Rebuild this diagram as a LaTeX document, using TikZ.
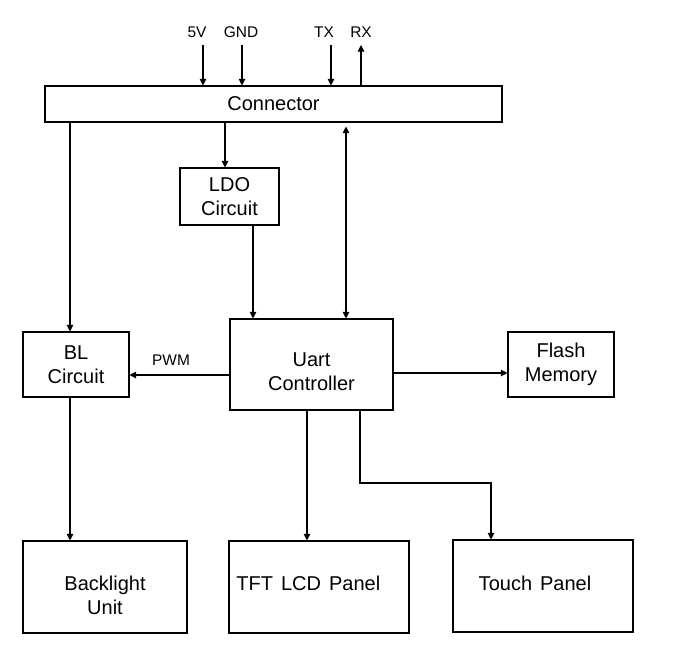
\documentclass[tikz,border=0pt]{standalone}
\usepackage{fontspec}
\setmainfont{Liberation Sans}
\usetikzlibrary{arrows.meta}

\begin{document}
\begin{tikzpicture}[x=0.75pt,y=-0.75pt,
  box/.style={draw,line width=0.8pt,align=center,inner sep=0pt,
    font=\fontsize{15}{18}\selectfont},
  txt/.style={align=center,inner sep=0pt,font=\fontsize{15}{18}\selectfont},
  sig/.style={inner sep=0pt,font=\fontsize{11.6}{14}\selectfont},
  arr/.style={-{Triangle[length=5pt,width=5pt]},line width=0.8pt},
  darr/.style={{Triangle[length=5pt,width=5pt]}-{Triangle[length=5pt,width=5pt]},line width=0.8pt}]
\useasboundingbox (0,0) rectangle (688,653);

% blocks
\node[box,minimum width=342.75pt,minimum height=27pt] (conn) at (273.5,104) {Connector};
\node[box,minimum width=74.25pt,minimum height=42.75pt] (ldo) at (229.5,196.5) {LDO\\Circuit};
\node[box,minimum width=79.5pt,minimum height=48.75pt] (bl) at (76,364.5) {BL\\Circuit};
\node[box,minimum width=122.25pt,minimum height=68.25pt,
  label={[txt,yshift=-5.6pt]center:Uart\\Controller}] (uart) at (311.5,364.5) {};
\node[box,minimum width=79.5pt,minimum height=48.75pt] (flash) at (561,364.5) {Flash\\Memory};
\node[box,minimum width=123pt,minimum height=69pt,
  label={[txt,yshift=-6pt]center:Backlight\\Unit}] (back) at (105,587) {};
\node[box,minimum width=135pt,minimum height=69pt,
  label={[txt,xshift=-8pt,yshift=3pt]center:TFT\hspace{0.4em}LCD\hspace{0.4em}Panel}] (tft) at (319,587) {};
\node[box,minimum width=135pt,minimum height=69pt,
  label={[txt,xshift=-6pt,yshift=2pt]center:Touch\hspace{0.4em}Panel}] (touch) at (543,586) {};

% signals on top
\node[sig] (l5v) at (197,32) {5V};
\node[sig] (lgnd) at (241,32) {GND};
\node[sig] (ltx) at (324,32) {TX};
\node[sig] (lrx) at (361,32) {RX};
\node[sig] (lpwm) at (171,360) {PWM};

\coordinate (v5) at (203,45);
\coordinate (gnd) at (242,45);
\coordinate (tx) at (331,45);
\coordinate (rx) at (361,45);
\coordinate (xl) at (70,0);
\coordinate (xldo) at (225,0);
\coordinate (xpow) at (253,0);
\coordinate (xser) at (346,0);
\coordinate (xtft) at (307,0);
\coordinate (xtch) at (360,0);
\coordinate (ypwm) at (0,375);
\coordinate (yfl) at (0,373);
\coordinate (bend) at (491,483);

\draw[arr] (v5) -- (v5 |- conn.north);
\draw[arr] (gnd) -- (gnd |- conn.north);
\draw[arr] (tx) -- (tx |- conn.north);
\draw[arr] (rx |- conn.north) -- (rx);

\draw[arr] (conn.south -| xl) -- (bl.north -| xl);
\draw[arr] (conn.south -| xldo) -- (ldo.north -| xldo);
\draw[darr,shorten <=3pt] (conn.south -| xser) -- (uart.north -| xser);
\draw[arr] (ldo.south -| xpow) -- (uart.north -| xpow);

\draw[arr] (uart.west |- ypwm) -- (bl.east |- ypwm);
\draw[arr] (uart.east |- yfl) -- (flash.west |- yfl);
\draw[arr] (bl.south -| xl) -- (back.north -| xl);
\draw[arr] (uart.south -| xtft) -- (tft.north -| xtft);
\draw[arr] (uart.south -| xtch) |- (bend) -- (touch.north -| bend);
\end{tikzpicture}
\end{document}
